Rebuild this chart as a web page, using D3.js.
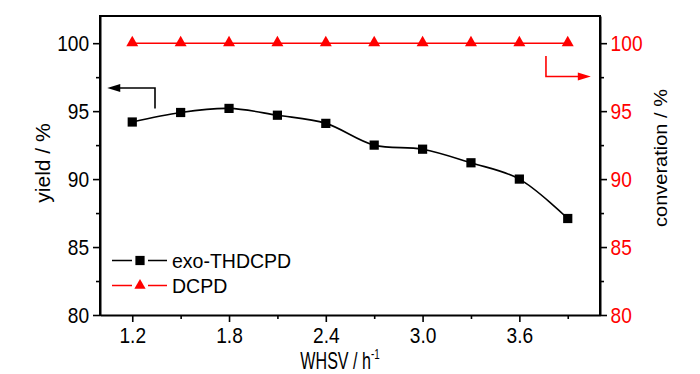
<!DOCTYPE html>
<html>
<head>
<meta charset="utf-8">
<script src="https://cdn.jsdelivr.net/npm/d3@7"></script>
<style>
  html, body { margin: 0; padding: 0; background: #fff; }
  svg { display: block; font-family: "Liberation Sans", Arial, sans-serif; }
</style>
</head>
<body>
<svg id="chart" width="700" height="374"></svg>
<script>
// ---- data ----
const whsv = [1.2, 1.5, 1.8, 2.1, 2.4, 2.7, 3.0, 3.3, 3.6, 3.9];
const yieldExo = [94.2, 94.9, 95.2, 94.7, 94.1, 92.5, 92.2, 91.2, 90.0, 87.1];
const convDCPD = [100, 100, 100, 100, 100, 100, 100, 100, 100, 100];
const xMajorTicks = [1.2, 1.8, 2.4, 3.0, 3.6];
const xMinorTicks = [1.5, 2.1, 2.7, 3.3, 3.9];
const yMajorTicks = [80, 85, 90, 95, 100];
const yMinorTicks = [82.5, 87.5, 92.5, 97.5];
const seriesNames = ["exo-THDCPD", "DCPD"];

const RED = "#ff0000";
const SQ = 0.87; // horizontal squeeze of the original's lettering

const svg = d3.select("#chart");
const L = 100, R = 600, T = 16, B = 315;

const x = d3.scaleLinear().domain([1.0, 4.1]).range([L, R]);
const yL = d3.scaleLinear().domain([80, 102]).range([B, T]);
const yR = d3.scaleLinear().domain([80, 102]).range([B, T]);

function styleAxis(g, color, textColor) {
  g.selectAll("path.domain").attr("stroke", color).attr("stroke-width", 2);
  g.selectAll(".tick line").attr("stroke", color).attr("stroke-width", 1.6);
  g.selectAll("text").attr("fill", textColor).attr("font-size", 22)
    .attr("font-family", "Liberation Sans, Arial, sans-serif")
    .attr("transform", `scale(${SQ},1)`);
}

// top border
svg.append("line").attr("x1", L).attr("x2", R).attr("y1", T).attr("y2", T)
  .attr("stroke", "#000").attr("stroke-width", 2);

// bottom axis
const gx = svg.append("g").attr("transform", `translate(0,${B})`)
  .call(d3.axisBottom(x).tickValues(xMajorTicks).tickFormat(d3.format(".1f"))
    .tickSize(7).tickSizeOuter(0).tickPadding(5));
styleAxis(gx, "#000", "#000");
const gx2 = svg.append("g").attr("transform", `translate(0,${B})`)
  .call(d3.axisBottom(x).tickValues(xMinorTicks).tickFormat("").tickSize(4).tickSizeOuter(0));
gx2.select("path.domain").remove();
gx2.selectAll(".tick line").attr("stroke", "#000").attr("stroke-width", 1.6);

// left axis
const gyl = svg.append("g").attr("transform", `translate(${L},0)`)
  .call(d3.axisLeft(yL).tickValues(yMajorTicks).tickSize(7).tickSizeOuter(0).tickPadding(5.5));
styleAxis(gyl, "#000", "#000");
const gyl2 = svg.append("g").attr("transform", `translate(${L},0)`)
  .call(d3.axisLeft(yL).tickValues(yMinorTicks).tickFormat("").tickSize(4).tickSizeOuter(0));
gyl2.select("path.domain").remove();
gyl2.selectAll(".tick line").attr("stroke", "#000").attr("stroke-width", 1.6);
svg.append("line").attr("x1", L).attr("x2", L).attr("y1", T - 1).attr("y2", B + 1)
  .attr("stroke", "#000").attr("stroke-width", 2);

// right axis
const gyr = svg.append("g").attr("transform", `translate(${R},0)`)
  .call(d3.axisRight(yR).tickValues(yMajorTicks).tickSize(7).tickSizeOuter(0).tickPadding(5.2));
styleAxis(gyr, "#000", RED);
const gyr2 = svg.append("g").attr("transform", `translate(${R},0)`)
  .call(d3.axisRight(yR).tickValues(yMinorTicks).tickFormat("").tickSize(4).tickSizeOuter(0));
gyr2.select("path.domain").remove();
gyr2.selectAll(".tick line").attr("stroke", "#000").attr("stroke-width", 1.6);
svg.append("line").attr("x1", R).attr("x2", R).attr("y1", T - 1).attr("y2", B + 1)
  .attr("stroke", "#000").attr("stroke-width", 2);

// axis titles
function sqText(px, py, txt, opts = {}) {
  const t = svg.append("text")
    .attr("transform", `translate(${px},${py}) scale(${opts.sx || SQ},1)` + (opts.rot ? ` rotate(${opts.rot})` : ""))
    .attr("text-anchor", opts.anchor || "middle")
    .attr("font-size", opts.size || 22)
    .attr("fill", opts.color || "#000");
  if (typeof txt === "string") t.text(txt);
  return t;
}
sqText(50, 163, "yield / %", { rot: -90, size: 21, sx: 0.95 });
sqText(667, 158, "converation / %", { rot: -90, size: 20, sx: 0.95 });
const xt = sqText(340, 369, null, { size: 23, sx: 0.7 });
xt.append("tspan").text("WHSV / h");
xt.append("tspan").attr("font-size", 14).attr("dy", -10).text("-1");

// data lines
const lineYield = d3.line().x((d, i) => x(whsv[i])).y(d => yL(d)).curve(d3.curveCatmullRom.alpha(0.5));
svg.append("path").datum(yieldExo).attr("d", lineYield)
  .attr("fill", "none").attr("stroke", "#000").attr("stroke-width", 1.6);

const lineConv = d3.line().x((d, i) => x(whsv[i])).y(d => yR(d));
svg.append("path").datum(convDCPD).attr("d", lineConv)
  .attr("fill", "none").attr("stroke", RED).attr("stroke-width", 1.5);

const sqSym = d3.symbol().type(d3.symbolSquare).size(85);
const triSym = d3.symbol().type(d3.symbolTriangle).size(62);

svg.append("g").selectAll("path").data(yieldExo).join("path")
  .attr("d", sqSym)
  .attr("transform", (d, i) => `translate(${x(whsv[i])},${yL(d)})`)
  .attr("fill", "#000");

svg.append("g").selectAll("path").data(convDCPD).join("path")
  .attr("d", triSym)
  .attr("transform", (d, i) => `translate(${x(whsv[i])},${yR(d) - 0.5})`)
  .attr("fill", RED);

// direction arrows (annotation, in data coordinates)
function arrow(pts, tip, color) {
  svg.append("path")
    .attr("d", d3.line()(pts))
    .attr("fill", "none").attr("stroke", color).attr("stroke-width", 1.6);
  const [tx, ty] = tip;
  const dir = Math.sign(tx - pts[pts.length - 1][0]);
  svg.append("path")
    .attr("d", `M${tx},${ty} L${tx - dir * 13},${ty - 4} L${tx - dir * 13},${ty + 4} Z`)
    .attr("fill", color);
}
arrow([[x(1.341), yL(95.2)], [x(1.341), yL(96.7)], [x(1.08), yL(96.7)]], [x(1.045), yL(96.7)], "#000");
arrow([[x(3.765), yR(99.05)], [x(3.765), yR(97.55)], [x(4.0), yR(97.55)]], [x(4.043), yR(97.55)], RED);

// legend
const legend = svg.append("g");
const legRows = [
  { name: seriesNames[0], color: "#000", sym: sqSym, y: 260.5 },
  { name: seriesNames[1], color: RED, sym: d3.symbol().type(d3.symbolTriangle).size(55), y: 285.5 }
];
legRows.forEach(r => {
  legend.append("line").attr("x1", 112).attr("x2", 167).attr("y1", r.y).attr("y2", r.y)
    .attr("stroke", r.color).attr("stroke-width", 1.4);
  legend.append("rect").attr("x", 132).attr("y", r.y - 7).attr("width", 16).attr("height", 14).attr("fill", "#fff");
  legend.append("path").attr("d", r.sym).attr("transform", `translate(140,${r.y})`).attr("fill", r.color);
  legend.append("text").attr("x", 172).attr("y", r.y + 7).attr("font-size", 19.5)
    .attr("fill", "#000").text(r.name);
});
</script>
</body>
</html>
